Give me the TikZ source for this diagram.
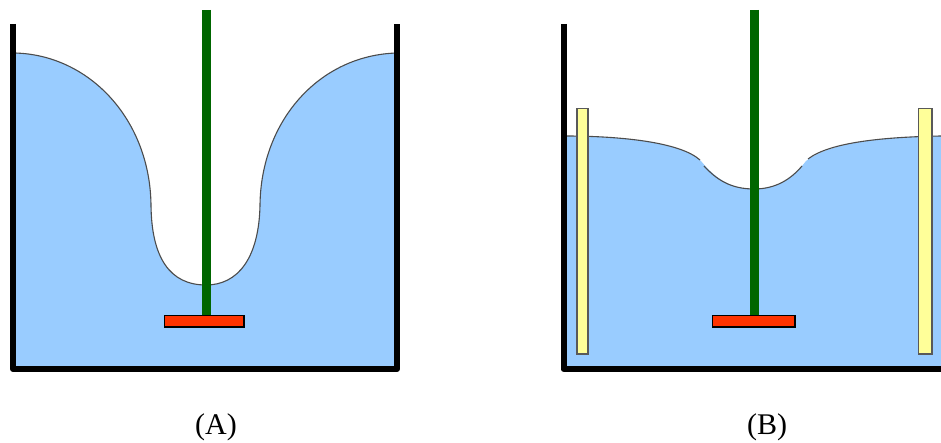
\documentclass[tikz,border=0pt]{standalone}
\usepackage{xcolor}
\usepackage{fontspec}
\setmainfont{Liberation Serif}
\usepackage{tikz}
\definecolor{waterblue}{HTML}{99CCFF}
\definecolor{shaftgreen}{HTML}{006600}
\definecolor{paddlered}{HTML}{FF3300}
\definecolor{bafflepale}{HTML}{FFFF99}

\begin{document}
\begin{tikzpicture}[x=1pt, y=-1pt,
    water/.style={fill=waterblue, draw=none},
    surface/.style={draw=black!70, line width=1.1pt},
    tankwall/.style={draw=black, line width=6pt, line join=round},
    shaft/.style={draw=shaftgreen, line width=9pt},
    paddle/.style={draw=black, fill=paddlered, line width=1.4pt},
    baffle/.style={draw=black!65, fill=bafflepale, line width=1.6pt},
    caption/.style={font=\fontsize{30}{34}\selectfont, inner sep=0pt}]
    \useasboundingbox (0,0) rectangle (941,443);
    % tank A
    \fill[water] (15,53) .. controls (90,55) and (150,120) .. (151,205)
        .. controls (151.5,258) and (170,285) .. (206,285)
        .. controls (238,285) and (259,258) .. (260,205)
        .. controls (261,120) and (320,55) .. (397,53)
        -- (397,369) -- (13,369) -- cycle;
    \draw[surface] (15,53) .. controls (90,55) and (150,120) .. (151,205)
        .. controls (151.5,258) and (170,285) .. (206,285)
        .. controls (238,285) and (259,258) .. (260,205)
        .. controls (261,120) and (320,55) .. (397,53);
    \draw[tankwall] (13,24) -- (13,369) -- (397,369) -- (397,24);
    \draw[shaft] (206.7,10) -- (206.7,315);
    \draw[paddle] (164.5,315.5) rectangle (244,327);
    % tank B
    \fill[water] (565,136) .. controls (620,136) and (680,142) .. (701,161)
        .. controls (715,178) and (730,189) .. (754,189)
        .. controls (778,189) and (793,178) .. (806,161)
        .. controls (830,142) and (885,137) .. (941,136)
        -- (941,369) -- (565,369) -- cycle;
    \draw[surface] (565,136) .. controls (620,136) and (680,142) .. (700,160);
    \draw[surface] (704,166) .. controls (716,179) and (730,189) .. (754,189)
        .. controls (776,189) and (791,179) .. (802,166);
    \draw[surface] (808,159) .. controls (830,142) and (885,137) .. (941,136);
    \draw[tankwall] (563.5,24) -- (563.5,369) -- (941,369);
    \draw[baffle] (577,108.5) rectangle (588,354);
    \draw[baffle] (918.5,108.5) rectangle (932,354);
    \draw[shaft] (754.7,10) -- (754.7,315);
    \draw[paddle] (712.5,315.5) rectangle (795,327);
    % captions
    \node[caption] (capA) at (216,427) {(A)};
    \node[caption] (capB) at (767,427) {(B)};
\end{tikzpicture}
\end{document}
